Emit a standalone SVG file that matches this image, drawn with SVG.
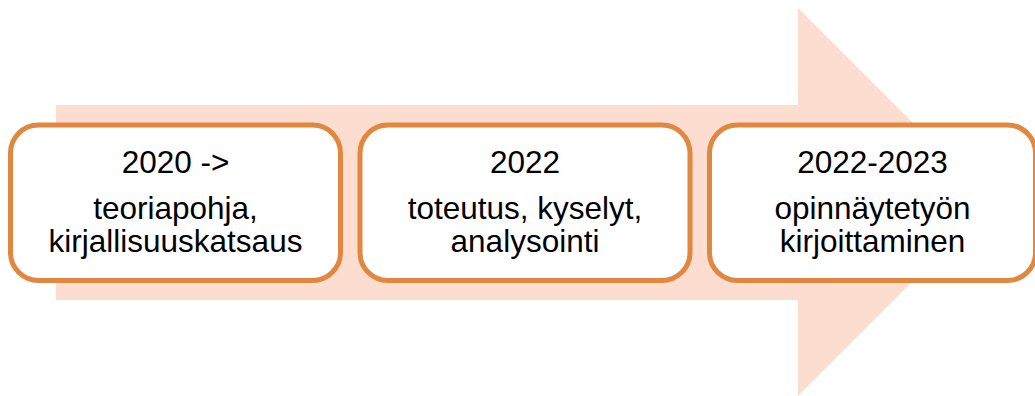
<svg xmlns="http://www.w3.org/2000/svg" width="1035" height="396" viewBox="0 0 1035 396">
<style>
.box{fill:#FFFFFF;stroke:#E1873F;stroke-width:5}
.t{font-family:"Liberation Sans",Arial,sans-serif;font-size:31.5px;fill:#000000;text-anchor:middle}
</style>
<rect width="1035" height="396" fill="#FFFFFF"/>
<g id="arrow">
<polygon points="56,105 798,105 798,8 992,202 798,396 798,300 56,300" fill="#FCDDD0"/>
</g>
<g id="node1">
<rect class="box" x="10.5" y="125" width="330" height="155.5" rx="28" ry="28"/>
<text class="t" x="175.5" y="173.3">2020 -&gt;</text>
<text class="t" x="175.5" y="219">teoriapohja,</text>
<text class="t" x="175.5" y="252">kirjallisuuskatsaus</text>
</g>
<g id="node2">
<rect class="box" x="360" y="125" width="330" height="155.5" rx="28" ry="28"/>
<text class="t" x="525" y="173.3">2022</text>
<text class="t" x="525" y="219">toteutus, kyselyt,</text>
<text class="t" x="525" y="252">analysointi</text>
</g>
<g id="node3">
<rect class="box" x="709.5" y="125" width="326" height="155.5" rx="28" ry="28"/>
<text class="t" x="872.5" y="173.3">2022-2023</text>
<text class="t" x="872.5" y="219">opinnäytetyön</text>
<text class="t" x="872.5" y="252">kirjoittaminen</text>
</g>
<g id="connectors"></g>
</svg>
